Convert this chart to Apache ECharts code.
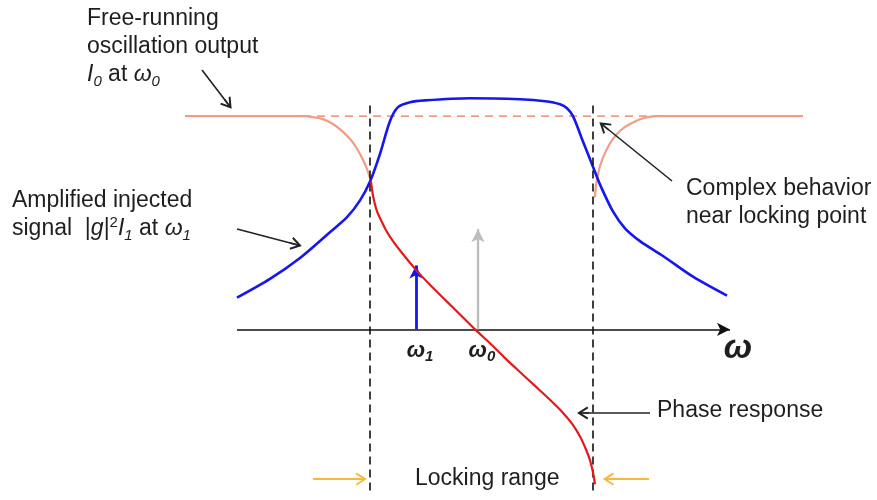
<!DOCTYPE html>
<html>
<head>
<meta charset="utf-8">
<script src="https://cdn.jsdelivr.net/npm/echarts@6/dist/echarts.min.js"></script>
<style>
  html, body { margin: 0; padding: 0; background: #ffffff; }
  #chart { width: 877px; height: 500px; }
</style>
</head>
<body>
<div id="chart"></div>
<script>
// Injection-locking sketch. Frequency is in arbitrary units along x,
// amplitude is normalised so that the free-running output level is 1.

// Locking range edges and the two tones
const lockLow = 40.5;
const lockHigh = 67.0;
const omega1 = 45.95;          // injected tone
const omega0 = 53.33;          // free-running tone
const injectedTone = 0.30;     // height of the injected-tone marker
const freeRunTone = 0.47;      // height of the free-running-tone marker
const freeLevel = 1.0;         // free-running output level I0
const freeLevelSpan = [32.5, 74.64];
const axisSpan = [24.64, 83.33];
const boundarySpan = [1.05, -0.765];

// Free-running output, outside the locking range
const freeLeftX = [18.45, 32.5, 33.69, 34.88, 36.07, 37.26, 38.21, 38.93, 39.52, 40.12, 40.48, 40.6];
const freeLeftY = [1, 1, 0.995, 0.986, 0.963, 0.926, 0.888, 0.847, 0.805, 0.753, 0.707, 0.67];
const freeRightX = [67.26, 67.38, 67.62, 67.86, 68.57, 69.4, 70.36, 71.43, 73.1, 74.64, 92.02];
const freeRightY = [0.619, 0.674, 0.726, 0.767, 0.837, 0.893, 0.935, 0.963, 0.991, 1, 1];

// Amplified injected signal |g|^2 I1
const ampX = [24.64, 28.57, 32.14, 35.71, 37.74, 39.29, 40.48, 41.67, 42.86, 43.81, 45.24, 47.02, 52.38,
              58.33, 61.31, 63.1, 63.93, 64.64, 65.71, 67.02, 67.86, 69.4, 70.83, 72.62, 75.36, 78.93, 82.98];
const ampY = [0.149, 0.237, 0.335, 0.456, 0.526, 0.605, 0.693, 0.823, 0.977, 1.042, 1.065, 1.074, 1.084,
              1.079, 1.07, 1.056, 1.037, 1.0, 0.893, 0.763, 0.679, 0.553, 0.474, 0.414, 0.344, 0.247, 0.158];

// Phase response across the locking range
const phaseX = [40.6, 40.77, 41.01, 41.31, 41.79, 42.38, 43.21, 44.29, 45.95, 47.62, 49.52, 51.19, 52.98,
                54.76, 56.43, 58.33, 60.12, 61.9, 63.33, 64.52, 65.48, 66.19, 66.67, 67.02, 67.26];
const phaseY = [0.693, 0.642, 0.595, 0.553, 0.512, 0.465, 0.414, 0.358, 0.279, 0.209, 0.135, 0.07, 0,
                -0.065, -0.130, -0.200, -0.265, -0.330, -0.386, -0.442, -0.502, -0.563, -0.614, -0.670, -0.726];

const pairs = (xs, ys) => xs.map((x, i) => [x, ys[i]]);

const FONT = '"Liberation Sans", Arial, Helvetica, sans-serif';
const INK = '#1e1e1e';
const SALMON = '#EE9E86';
const BLUE = '#1616EE';
const RED = '#E31A1C';
const GOLD = '#F5B942';
const GREY = '#BDBDBD';
// open arrowhead (chevron with a short shaft), tip pointing up in symbol space
const OPEN_HEAD = 'path://M5,0 L10,8.6 L8.7,9.4 L5.6,4.2 L5.6,10 L4.4,10 L4.4,4.2 L1.3,9.4 L0,8.6 Z';

function curve(name, data, color, width, z, extra) {
  return Object.assign({
    name: name, type: 'line', data: data, symbol: 'none', showSymbol: false,
    smooth: 0.3, clip: false, silent: true, z: z,
    lineStyle: { color: color, width: width }, itemStyle: { color: color },
    emphasis: { disabled: true }
  }, extra || {});
}

function overlay(name, lines, z) {
  return {
    name: name, type: 'line', data: [], silent: true, z: z,
    markLine: {
      silent: true, animation: false, precision: 10,
      symbol: ['none', 'arrow'], symbolSize: [9, 12],
      label: { show: false }, emphasis: { disabled: true },
      data: lines
    }
  };
}

function seg(a, b, color, width, opts) {
  const o = opts || {};
  return [
    Object.assign({}, a, { symbol: 'none', lineStyle: { color: color, width: width, type: o.type || 'solid' } }),
    Object.assign({}, b, {
      symbol: o.endSymbol === undefined ? 'arrow' : o.endSymbol,
      symbolSize: o.size || [9, 12],
      itemStyle: { color: color }
    })
  ];
}

const option = {
  animation: false,
  backgroundColor: '#ffffff',
  grid: { left: 30, right: 7, top: 9.5, height: 494.5, containLabel: false },
  xAxis: { type: 'value', min: 0, max: 100, show: false },
  yAxis: { type: 'value', min: -0.8, max: 1.5, show: false },
  series: [
    curve('Free-running level', pairs(freeLevelSpan, [freeLevel, freeLevel]), SALMON, 1.8, 1,
          { smooth: false, lineStyle: { color: SALMON, width: 1.8, type: [8, 6] } }),
    curve('Free-running output (low side)', pairs(freeLeftX, freeLeftY), SALMON, 2.2, 2),
    curve('Free-running output (high side)', pairs(freeRightX, freeRightY), SALMON, 2.2, 2),
    curve('Amplified injected signal', pairs(ampX, ampY), BLUE, 2.6, 4),
    curve('Phase response', pairs(phaseX, phaseY), RED, 2.2, 5),
    overlay('Frequency axis and tones', [
      seg({ coord: [axisSpan[0], 0] }, { coord: [axisSpan[1], 0] }, '#111111', 1.6, { size: [10, 13] }),
      seg({ coord: [omega1, 0] }, { coord: [omega1, injectedTone] }, BLUE, 2.8, { size: [10, 13] }),
      seg({ coord: [omega0, 0] }, { coord: [omega0, freeRunTone] }, GREY, 2.4, { size: [10, 13] })
    ], 6),
    overlay('Locking range edges', [
      seg({ coord: [lockLow, boundarySpan[0]] }, { coord: [lockLow, boundarySpan[1]] }, '#111111', 1.6, { type: [8, 5], endSymbol: 'none' }),
      seg({ coord: [lockHigh, boundarySpan[0]] }, { coord: [lockHigh, boundarySpan[1]] }, '#111111', 1.6, { type: [8, 5], endSymbol: 'none' }),
      seg({ coord: [lockLow - 6.8, -0.702] }, { coord: [lockLow - 1.1, -0.702] }, GOLD, 2, { endSymbol: OPEN_HEAD, size: [13, 12] }),
      seg({ coord: [lockHigh + 6.7, -0.702] }, { coord: [lockHigh + 1.9, -0.702] }, GOLD, 2, { endSymbol: OPEN_HEAD, size: [13, 12] })
    ], 7),
    overlay('Callouts', [
      seg({ x: 202, y: 70 }, { x: 228, y: 104 }, '#222222', 1.6, { endSymbol: OPEN_HEAD, size: [13, 12] }),
      seg({ x: 237, y: 229 }, { x: 296, y: 244.5 }, '#222222', 1.6, { endSymbol: OPEN_HEAD, size: [13, 12] }),
      seg({ x: 672, y: 181 }, { x: 604, y: 126 }, '#222222', 1.6, { endSymbol: OPEN_HEAD, size: [13, 12] }),
      seg({ x: 650, y: 413 }, { x: 583, y: 413 }, '#222222', 1.6, { endSymbol: OPEN_HEAD, size: [13, 12] })
    ], 8)
  ]
};

const chart = echarts.init(document.getElementById('chart'), null, { renderer: 'canvas' });
chart.setOption(option);

// Text: italic symbols with sub/superscripts via rich text
const rich = {
  n: { fontFamily: FONT, fontSize: 23, lineHeight: 28, fill: INK },
  i: { fontFamily: FONT, fontSize: 23, lineHeight: 28, fontStyle: 'italic', fill: INK },
  s: { fontFamily: FONT, fontSize: 15, lineHeight: 15, fontStyle: 'italic', verticalAlign: 'bottom', fill: INK },
  p: { fontFamily: FONT, fontSize: 15, lineHeight: 15, verticalAlign: 'top', fill: INK },
  w: { fontFamily: FONT, fontSize: 22, lineHeight: 26, fontStyle: 'italic', fontWeight: 'bold', fill: INK },
  ws: { fontFamily: FONT, fontSize: 15, lineHeight: 14, fontStyle: 'italic', fontWeight: 'bold', verticalAlign: 'bottom', fill: INK },
  big: { fontFamily: FONT, fontSize: 34, lineHeight: 36, fontStyle: 'italic', fontWeight: 'bold', fill: INK }
};

function label(x, y, text, align, vAlign) {
  return {
    type: 'text', x: x, y: y, silent: true, z: 20,
    style: {
      text: text, rich: rich, fill: INK, fontFamily: FONT, fontSize: 23, lineHeight: 28,
      align: align || 'left', verticalAlign: vAlign || 'top'
    }
  };
}

const p1 = chart.convertToPixel({ gridIndex: 0 }, [omega1, 0]);
const p0 = chart.convertToPixel({ gridIndex: 0 }, [omega0, 0]);
const pEnd = chart.convertToPixel({ gridIndex: 0 }, [axisSpan[1], 0]);

chart.setOption({
  graphic: [
    label(87, 5, '{n|Free-running}\n{n|oscillation output}\n{i|I}{s|0}{n| at }{i|ω}{s|0}'),
    label(12, 187, '{n|Amplified injected}\n{n|signal  |}{i|g}{n||}{p|2}{i|I}{s|1}{n| at }{i|ω}{s|1}'),
    label(686, 175, '{n|Complex behavior}\n{n|near locking point}'),
    label(657, 411, '{n|Phase response}', 'left', 'middle'),
    label(415, 479, '{n|Locking range}', 'left', 'middle'),
    label(p1[0] + 4, p1[1] + 22, '{w|ω}{ws|1}', 'center', 'middle'),
    label(p0[0] + 4, p0[1] + 22, '{w|ω}{ws|0}', 'center', 'middle'),
    label(pEnd[0] + 8, pEnd[1] + 19, '{big|ω}', 'center', 'middle')
  ]
});
</script>
</body>
</html>
